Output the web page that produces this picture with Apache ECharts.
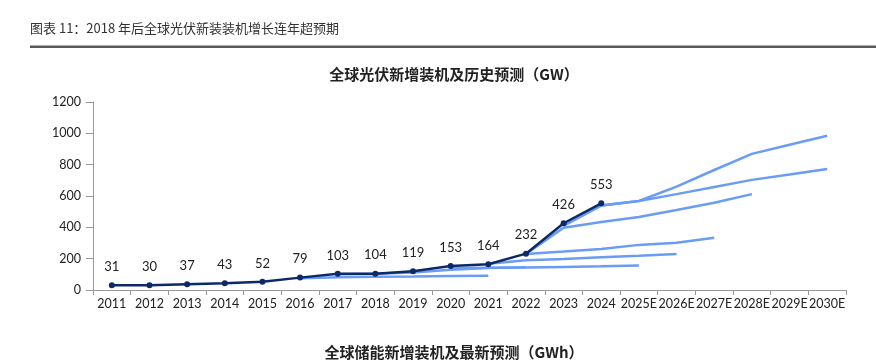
<!DOCTYPE html>
<html>
<head>
<meta charset="utf-8">
<script src="https://cdn.jsdelivr.net/npm/echarts@6/dist/echarts.min.js"></script>
<style>
html,body{margin:0;padding:0;background:#fff;}
#c{width:876px;height:362px;}
</style>
</head>
<body>
<div id="c"></div>
<script>
const categories = ['2011','2012','2013','2014','2015','2016','2017','2018','2019','2020','2021','2022','2023','2024','2025E','2026E','2027E','2028E','2029E','2030E'];
const yTicks = [0, 200, 400, 600, 800, 1000, 1200];
// actual installations (GW)
const actual = [31, 30, 37, 43, 52, 79, 103, 104, 119, 153, 164, 232, 426, 553];
// historical forecasts (GW); '-' = no value
const forecastA = ['-','-','-','-','-',75,82,85,86,89,91];
const forecastB = ['-','-','-','-','-','-',100,104,112,130,140,146];
const forecastC = ['-','-','-','-','-','-','-','-','-',140,142,143,147,151,156];
const forecastD = ['-','-','-','-','-','-','-','-','-','-',168,190,198,209,219,230];
const forecastE = ['-','-','-','-','-','-','-','-','-','-','-',230,245,262,288,302,334];
const forecastF = ['-','-','-','-','-','-','-','-','-','-','-',230,398,434,466,510,557,612];
const forecastG = ['-','-','-','-','-','-','-','-','-','-','-','-',410,540,568,612,657,703,737,772];
const forecastH = ['-','-','-','-','-','-','-','-','-','-','-','-',410,540,568,660,766,869,927,984];

const forecasts = [forecastA, forecastB, forecastC, forecastD, forecastE, forecastF, forecastG, forecastH];
const LIGHT = '#6a9cf6';
const DARK = '#0c2a68';
const FONT = 'Lato';

const chart = echarts.init(document.getElementById('c'));
const series = forecasts.map(d => ({
  type: 'line', data: d, symbol: 'none', silent: true,
  lineStyle: {color: LIGHT, width: 2.5}, z: 2, animation: false
}));
series.push({
  type: 'line', data: actual, symbol: 'circle', symbolSize: 6,
  itemStyle: {color: DARK}, lineStyle: {color: DARK, width: 2.5}, z: 5,
  label: {show: true, position: 'top', distance: 9, color: '#222', fontSize: 13, fontFamily: FONT},
  animation: false
});

chart.setOption({
  animation: false,
  title: [
    {text: '全球光伏新增装机及历史预测（GW）', left: 449, top: 62, textAlign: 'center',
     textStyle: {fontSize: 15, fontWeight: 'bold', color: '#222', fontFamily: 'Noto Sans CJK SC'}},
    {text: '全球储能新增装机及最新预测（GWh）', left: 449, top: 340, textAlign: 'center',
     textStyle: {fontSize: 15, fontWeight: 'bold', color: '#222', fontFamily: 'Noto Sans CJK SC'}}
  ],
  graphic: [
    {type: 'text', left: 30, top: 22, style: {text: '图表 11：2018 年后全球光伏新装装机增长连年超预期', fill: '#333', font: '13px "Noto Sans CJK SC"'}},
    {type: 'rect', shape: {x: 30, y: 45.5, width: 846, height: 2.5}, style: {fill: '#5a5a5a'}}
  ],
  grid: {left: 93, right: 30, top: 102, bottom: 72},
  xAxis: {
    type: 'category', data: categories, boundaryGap: true,
    axisLine: {lineStyle: {color: '#999', width: 1}},
    axisTick: {show: true, length: 5, lineStyle: {color: '#999'}},
    axisLabel: {color: '#222', fontSize: 12.5, fontFamily: FONT, margin: 7, interval: 0}
  },
  yAxis: {
    type: 'value', min: yTicks[0], max: yTicks[yTicks.length-1], interval: 200,
    axisLine: {show: true, lineStyle: {color: '#999'}},
    axisTick: {show: true, length: 7, lineStyle: {color: '#999'}},
    splitLine: {show: false},
    axisLabel: {color: '#222', fontSize: 12.5, fontFamily: FONT, margin: 12, formatter: v => String(v)}
  },
  series: series
});
</script>
</body>
</html>
